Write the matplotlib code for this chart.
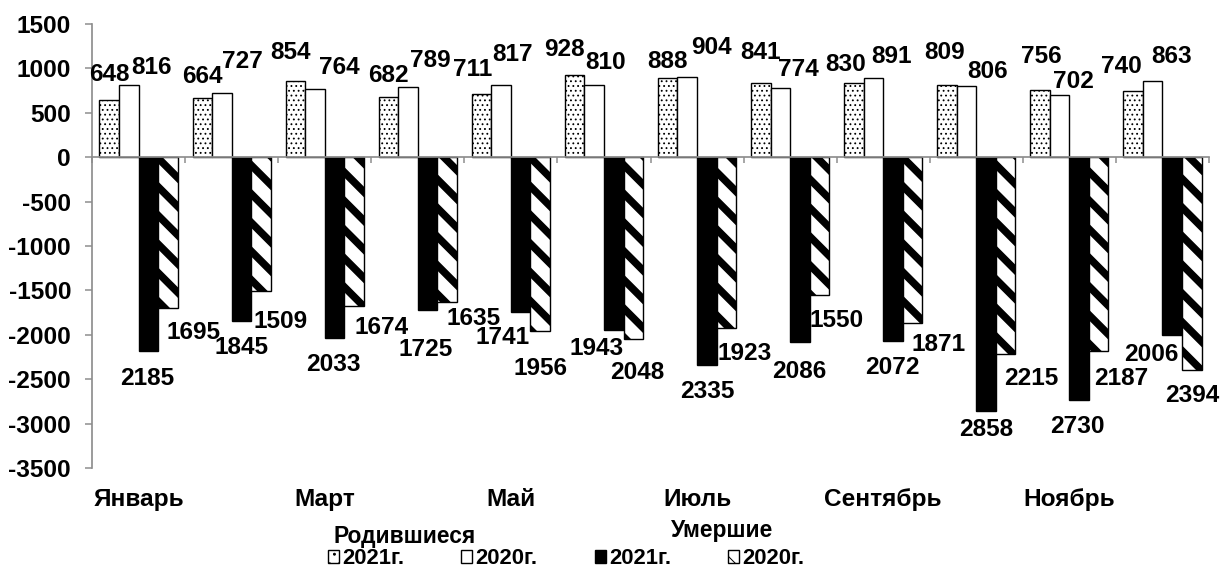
import matplotlib
matplotlib.use('Agg')
import matplotlib.pyplot as plt
from matplotlib.patches import Patch
import numpy as np

# ---------------- data ----------------
months = ['Январь', 'Февраль', 'Март', 'Апрель', 'Май', 'Июнь', 'Июль',
          'Август', 'Сентябрь', 'Октябрь', 'Ноябрь', 'Декабрь']
born_2021 = [648, 664, 854, 682, 711, 928, 888, 841, 830, 809, 756, 740]
born_2020 = [816, 727, 764, 789, 817, 810, 904, 774, 891, 806, 702, 863]
died_2021 = [2185, 1845, 2033, 1725, 1741, 1943, 2335, 2086, 2072, 2858, 2730, 2006]
died_2020 = [1695, 1509, 1674, 1635, 1956, 2048, 1923, 1550, 1871, 2215, 2187, 2394]
y_ticks = list(range(-3500, 1501, 500))
legend_groups = ['Родившиеся', 'Умершие']
legend_years = ['2021г.', '2020г.', '2021г.', '2020г.']

# label offsets (pixels, right / down) relative to bar end
b21_dx = [0, 0, -5, 0, -9, -10, 0, 0, -8, -2, 1, -12]
b21_dy = [-25.5, -22, -29, -21, -25, -25, -17, -30, -19, -33, -34, -25]
b20_dx = [23, 21, 24, 22, 11, 11, 24, 18, 18, 21, 14, 19]
b20_dy = [-17.5, -31, -22, -27, -30, -23, -29, -19, -22, -14, -13, -24]
d21_dx = [-1, 0, -1, -2, -18, -17, 0, -1, -1, 0, -2, -21]
d21_dy = [27, 26, 26.5, 39, 26, 18.5, 27, 29, 26, 19, 27, 19]
d20_dx = [26, 20, 28, 26, 0, 4, 18, 17, 26, 26, 23, 0]
d20_dy = [24.5, 30, 22, 16, 38, 33, 26, 26, 21, 25, 27, 26]

# ---------------- style ----------------
DPI = 172
def pt(px):
    return px * 72.0 / DPI

plt.rcParams['font.family'] = ['Liberation Sans', 'DejaVu Sans']
plt.rcParams['font.weight'] = 'bold'
plt.rcParams['axes.unicode_minus'] = False

FS = 10.2
GRAY = '#8c8c8c'
DOTS = '......'
STRIPES = '\\\\'

fig = plt.figure(figsize=(1220 / DPI, 570 / DPI), dpi=DPI)
L, R, T, B = 92, 1209, 24, 468
ax = fig.add_axes([L / 1220, 1 - B / 570, (R - L) / 1220, (B - T) / 570])

x = np.arange(len(months))
w = 0.21
edge_lw = pt(1.4)

def bars(offset, vals, face, hatch, hlw):
    plt.rcParams['hatch.linewidth'] = hlw
    bc = ax.bar(x + offset * w, vals, width=w, facecolor=face, edgecolor='black',
                linewidth=edge_lw, hatch=hatch, zorder=3)
    for p in bc:
        if hasattr(p, 'set_hatch_linewidth'):
            p.set_hatch_linewidth(hlw)
    return bc

bc1 = bars(-1.5, born_2021, 'white', DOTS, pt(1.0))
bc2 = bars(-0.5, born_2020, 'white', None, pt(1.0))
bc3 = bars(0.5, -np.array(died_2021), 'black', None, pt(1.0))
bc4 = bars(1.5, -np.array(died_2020), 'white', STRIPES, pt(7.5))

def labels(bc, vals, dxs, dys):
    for p, v, dx, dy in zip(bc, vals, dxs, dys):
        xc = p.get_x() + p.get_width() / 2
        yv = p.get_y() + p.get_height()
        ax.annotate(f'{abs(v)}', (xc, yv), xytext=(dx, -dy),
                    textcoords='offset pixels', ha='center', va='center',
                    fontsize=FS, fontweight='bold', zorder=5)

labels(bc1, born_2021, b21_dx, b21_dy)
labels(bc2, born_2020, b20_dx, b20_dy)
labels(bc3, died_2021, d21_dx, d21_dy)
labels(bc4, died_2020, d20_dx, d20_dy)

ax.set_xlim(-0.5, len(months) - 0.5)
ax.set_ylim(-3500, 1500)
ax.set_yticks(y_ticks)
ax.set_yticklabels([str(v) for v in y_ticks])
ax.tick_params(axis='y', direction='out', length=pt(7), width=pt(1.5),
               color=GRAY, pad=pt(14), labelsize=FS)

for s in ['top', 'right']:
    ax.spines[s].set_visible(False)
ax.spines['left'].set_color(GRAY)
ax.spines['left'].set_linewidth(pt(1.7))
ax.spines['bottom'].set_position(('data', 0))
ax.spines['bottom'].set_color(GRAY)
ax.spines['bottom'].set_linewidth(pt(1.7))
ax.spines['bottom'].set_zorder(4)
ax.set_xticks(np.arange(-0.5, len(months), 1.0))
ax.set_xticklabels([])
ax.tick_params(axis='x', direction='out', length=pt(6), width=pt(1.5), color=GRAY)

sec = ax.secondary_xaxis(0)
sec.set_xticks(x[::2], months[::2])
sec.tick_params(length=0, pad=pt(20), labelsize=FS)
sec.spines['bottom'].set_visible(False)

# legend
plt.rcParams['hatch.linewidth'] = pt(1.0)
handles = [
    Patch(facecolor='white', edgecolor='black', hatch='...', linewidth=edge_lw),
    Patch(facecolor='white', edgecolor='black', linewidth=edge_lw),
    Patch(facecolor='black', edgecolor='black', linewidth=edge_lw),
    Patch(facecolor='white', edgecolor='black', hatch='\\\\', linewidth=edge_lw),
]
LFS = 9.2
TFS = 9.5
fig.legend(handles, legend_years, loc='center', ncol=4, frameon=False,
           bbox_to_anchor=(566 / 1220, 1 - 559 / 570), fontsize=LFS,
           handlelength=0.5, handleheight=0.5, handletextpad=0.15,
           columnspacing=2.6, borderaxespad=0, borderpad=0)
fig.text(405 / 1220, 1 - 536 / 570, legend_groups[0], ha='center', va='center',
         fontsize=TFS, fontweight='bold')
fig.text(722 / 1220, 1 - 531 / 570, legend_groups[1], ha='center', va='center',
         fontsize=TFS, fontweight='bold')

fig.savefig('out.png', dpi=DPI, facecolor='white')
